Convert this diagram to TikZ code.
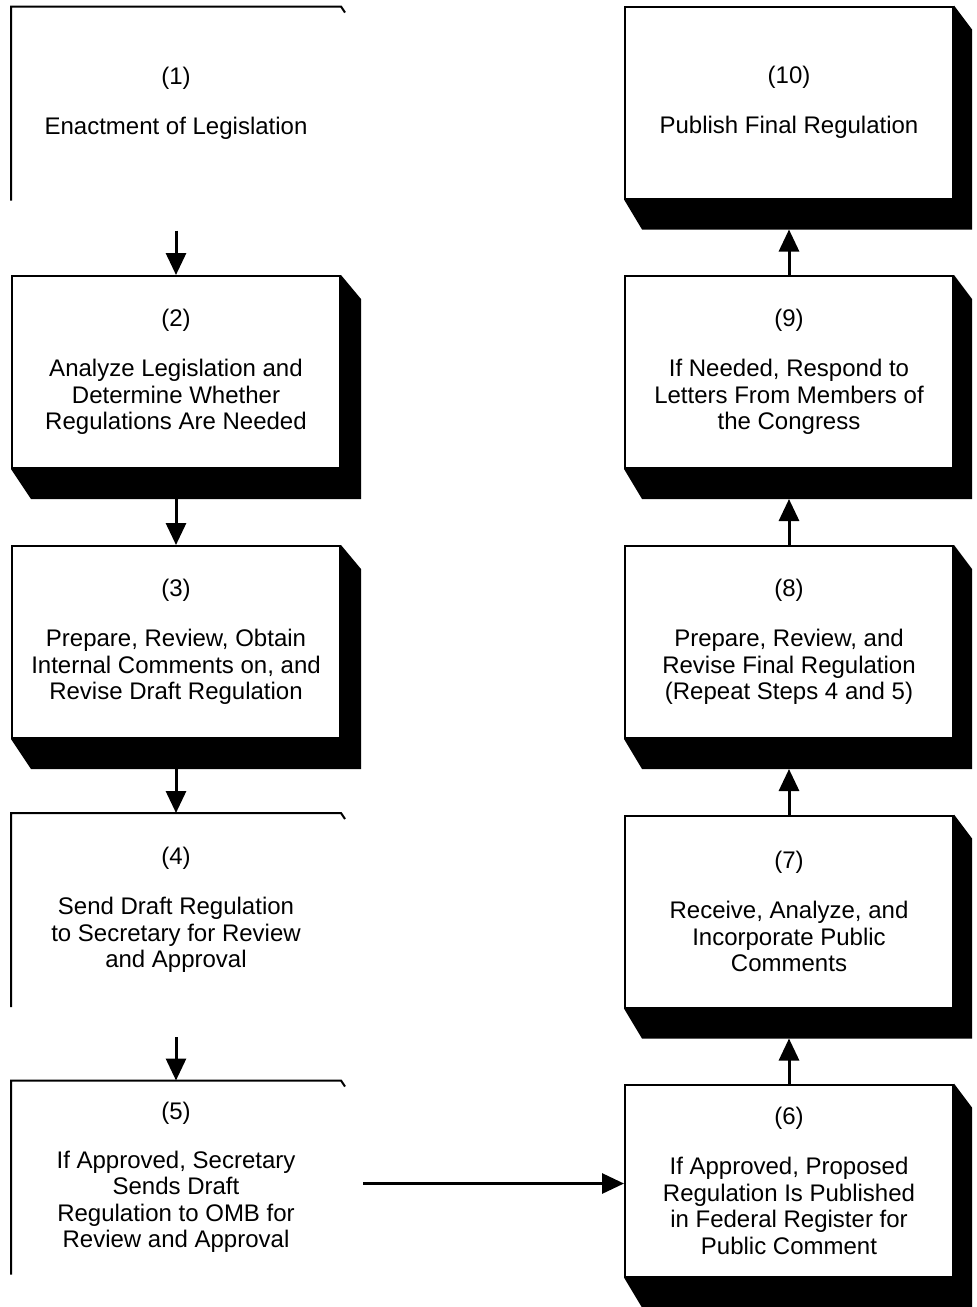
\documentclass[tikz,border=0pt]{standalone}
\usepackage{fontspec}
\setmainfont{Liberation Sans}
\usetikzlibrary{arrows.meta}
\tikzset{
  stepbox/.style={draw=black,line width=1pt,fill=white,align=center,inner sep=0pt,
    minimum width=164pt,minimum height=96pt,font=\fontsize{12}{13.25}\selectfont},
  openbox/.style={stepbox,draw=none,fill=none},
  flow/.style={->,line width=1.5pt},
}
\begin{document}
\begin{tikzpicture}[x=0.5pt,y=-0.5pt,>={Triangle[length=11pt,width=10pt]},line join=miter]
\useasboundingbox (0,0) rectangle (977,1307);
%%
\node (step_1) at (176,103.5) [openbox] {(1)\\[12pt]Enactment of Legislation};
  \node (step_2) at (176,372) [stepbox] {(2)\\[12pt]Analyze Legislation and\\Determine Whether\\Regulations Are Needed};
  \node (step_3) at (176,642) [stepbox] {(3)\\[12pt]Prepare, Review, Obtain\\Internal Comments on, and\\Revise Draft Regulation};
  \node (step_4) at (176,910) [openbox] {(4)\\[12pt]Send Draft Regulation\\to Secretary for Review\\and Approval};
  \node (step_5) at (176,1177.5) [openbox] {(5)\\[11pt]If Approved, Secretary\\Sends Draft\\Regulation to OMB for\\Review and Approval};
  \node (step_6) at (789,1180.5) [stepbox] {(6)\\[12pt]If Approved, Proposed\\Regulation Is Published\\in Federal Register for\\Public Comment};
  \node (step_7) at (789,911.5) [stepbox] {(7)\\[12pt]Receive, Analyze, and\\Incorporate Public\\Comments};
  \node (step_8) at (789,642) [stepbox] {(8)\\[12pt]Prepare, Review, and\\Revise Final Regulation\\(Repeat Steps 4 and 5)};
  \node (step_9) at (789,372) [stepbox] {(9)\\[12pt]If Needed, Respond to\\Letters From Members of\\the Congress};
  \node (step_10) at (789,102.5) [stepbox] {(10)\\[12pt]Publish Final Regulation};
%
\foreach \n/\d in {step_2/20,step_3/20,step_6/18,step_7/18,step_8/18,step_9/18,step_10/18}
  \fill [black] (\n.north east) -- ([shift={(\d,24)}]\n.north east) -- ([shift={(\d,30)}]\n.south east)
    -- ([shift={(\d,30)}]\n.south west) -- (\n.south west) -- (\n.south east) -- cycle;
\foreach \n in {step_1,step_4,step_5}
  \draw [line width=1pt] (\n.south west) -- (\n.north west) -- (\n.north east) -- ++(4,6);
%
  \draw [flow] ([yshift=-15pt]step_1.south) -- (step_2.north);
  \draw [flow] ([yshift=-15pt]step_2.south) -- (step_3.north);
  \draw [flow] ([yshift=-15pt]step_3.south) -- (step_4.north);
  \draw [flow] ([yshift=-15pt]step_4.south) -- (step_5.north);
  \draw [flow] ([shift={(22,6)}]step_5.east) -- ([shift={(0,3)}]step_6.west);
  \draw [flow] (step_6.north) -- ([yshift=-15pt]step_7.south);
  \draw [flow] (step_7.north) -- ([yshift=-15pt]step_8.south);
  \draw [flow] (step_8.north) -- ([yshift=-15pt]step_9.south);
  \draw [flow] (step_9.north) -- ([yshift=-15pt]step_10.south);
%
\end{tikzpicture}
\end{document}
